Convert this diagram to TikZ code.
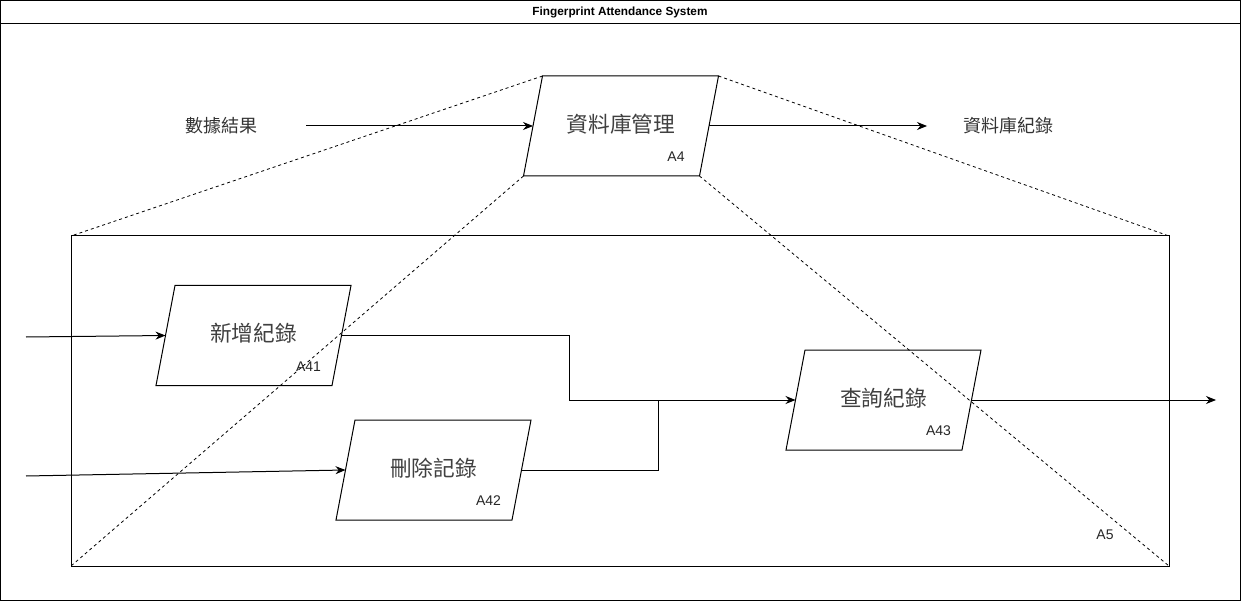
\documentclass[tikz,border=0pt]{standalone}
\usepackage{fontspec}
\setmainfont{Liberation Sans}
\newfontfamily\cjk{Noto Sans CJK TC}
\usetikzlibrary{arrows.meta}
\tikzset{
  frame/.style={draw=black, line width=1pt},
  guide/.style={draw=black, line width=0.8pt, dash pattern=on 3pt off 3pt},
  flow/.style={draw=black, line width=1pt, -{Stealth[length=10pt,width=8pt]}},
  link/.style={draw=black, line width=1pt},
  actlabel/.style={font=\cjk\fontsize{21.7}{26}\selectfont, text=black!75, inner sep=0pt},
  sidelabel/.style={font=\cjk\fontsize{18}{21}\selectfont, text=black!80, inner sep=0pt},
  idlabel/.style={font=\fontsize{14}{16}\selectfont, text=black!85, inner sep=0pt},
}
% activity box: parallelogram 176 wide, 100 high, slanted by 19
% #1 name, #2 centre x, #3 centre y, #4 title, #5 code
\newcommand{\actbox}[5]{%
  \draw[frame, fill=white] (#2-78.5,#3-50) coordinate (#1-tl) -- (#2+97.5,#3-50) coordinate (#1-tr)
     -- (#2+78.5,#3+50) coordinate (#1-br) -- (#2-97.5,#3+50) coordinate (#1-bl) -- cycle;
  \coordinate (#1-w) at (#2-88,#3);
  \coordinate (#1-e) at (#2+88,#3);
  \node[actlabel] (#1) at (#2,#3-2) {#4};
  \node[idlabel] (#1-id) at (#2+55,#3+31) {#5};
}
\begin{document}
\begin{tikzpicture}[x=1pt,y=-1pt]
  \useasboundingbox (0,0) rectangle (1241,601);
  % outer frame with title bar
  \draw[frame] (0.5,0.5) rectangle (1240.5,600.5);
  \draw[frame] (0.5,23.5) -- (1240.5,23.5);
  \node[font=\bfseries\fontsize{11.8}{14}\selectfont, inner sep=0pt] (title) at (620,12) {Fingerprint Attendance System};

  % decomposition frame
  \draw[frame] (71,236) coordinate (f-tl) rectangle (1169,566) coordinate (f-br);
  \coordinate (f-tr) at (1169,236);
  \coordinate (f-bl) at (71,566);
  \node[idlabel] (a5) at (1105,535) {A5};

  % parent activity
  \actbox{a4}{621}{126}{資料庫管理}{A4}
  \node[sidelabel] (in4) at (221,126) {數據結果};
  \node[sidelabel] (out4) at (1008,126) {資料庫紀錄};
  \draw[flow] (306,126) -- (a4-w);
  \draw[flow] (a4-e) -- (927,126);

  % zoom guide lines
  \draw[guide] (a4-tl) -- (f-tl);
  \draw[guide] (a4-tr) -- (f-tr);

  % child activities
  \actbox{a41}{253.5}{335.5}{新增紀錄}{A41}
  \actbox{a42}{433.5}{470}{刪除記錄}{A42}
  \actbox{a43}{883.5}{400}{查詢紀錄}{A43}

  \draw[guide] (a4-bl) -- (f-bl);
  \draw[guide] (a4-br) -- (f-br);

  % inputs
  \coordinate (in41) at (26,337);
  \coordinate (in42) at (26,476);
  \draw[flow] (in41) -- (a41-w);
  \draw[flow] (in42) -- (a42-w);

  % flows into the query activity
  \coordinate (j1) at (569,335.5);
  \coordinate (j2) at (569,400);
  \coordinate (j3) at (658,470);
  \coordinate (j4) at (658,400);
  \draw[flow] (a41-e) -- (j1) -- (j2) -- (a43-w);
  \draw[link] (a42-e) -- (j3) -- (j4);

  % output
  \coordinate (out43) at (1216,400);
  \draw[flow] (a43-e) -- (out43);
\end{tikzpicture}
\end{document}
